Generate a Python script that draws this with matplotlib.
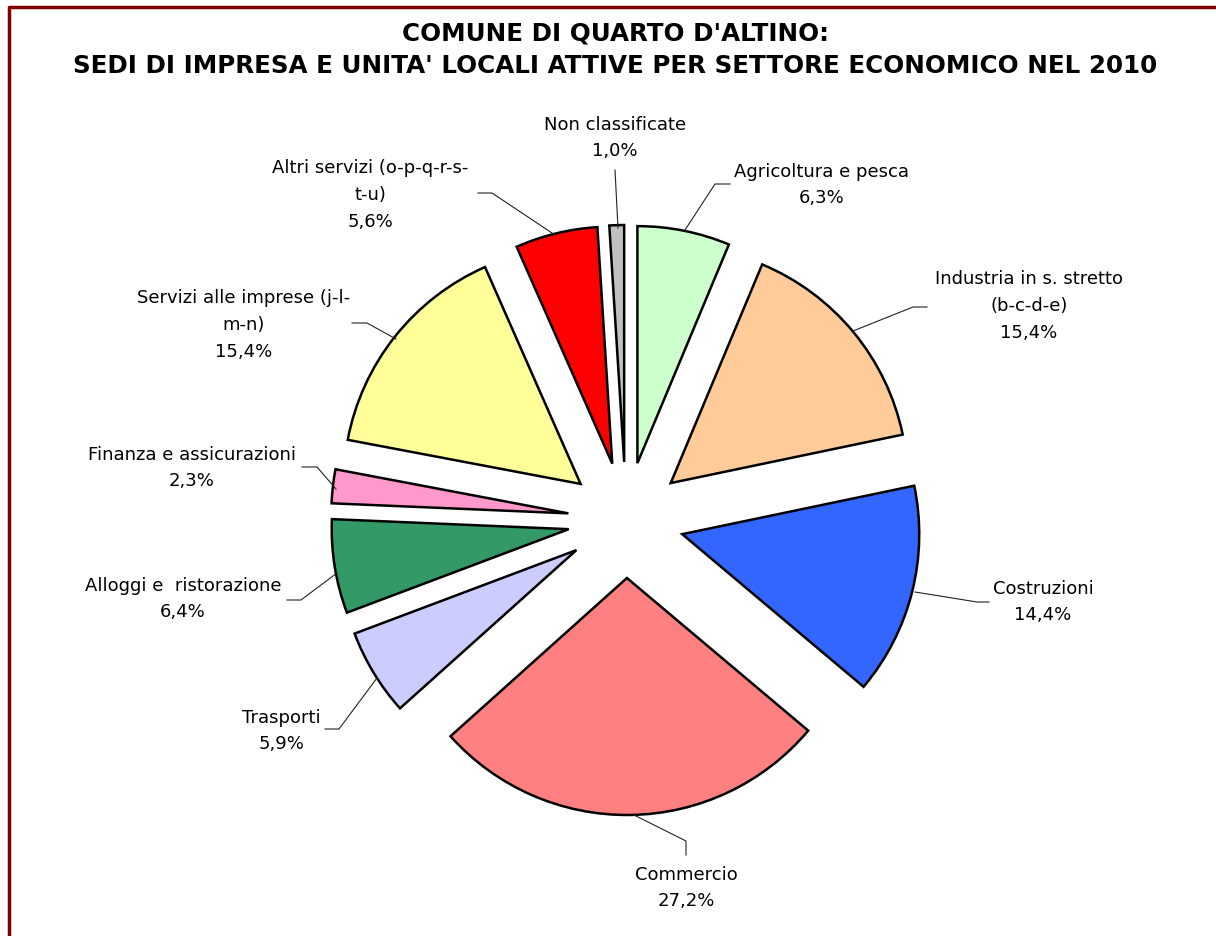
import matplotlib.pyplot as plt

# dati
settori = ["Agricoltura e pesca", "Industria in s. stretto\n(b-c-d-e)", "Costruzioni",
           "Commercio", "Trasporti", "Alloggi e  ristorazione", "Finanza e assicurazioni",
           "Servizi alle imprese (j-l-\nm-n)", "Altri servizi (o-p-q-r-s-\nt-u)",
           "Non classificate"]
perc = [6.3, 15.4, 14.4, 27.2, 5.9, 6.4, 2.3, 15.4, 5.6, 1.0]
colori = ["#CCFFCC", "#FFCC99", "#3366FF", "#FF8080", "#CCCCFF", "#339966",
          "#FF99CC", "#FFFF99", "#FF0000", "#C0C0C0"]

W, H = 1216, 936
# posizioni etichette (pixel, y dall'alto) e linee guida
pos_etich = [(822, 185), (1029, 306), (1043, 602), (686, 888), (281, 731),
             (183, 599), (192, 468), (244, 325), (370, 195), (615, 138)]
guide = [[(730, 184), (715, 184), (685, 230)],
         [(927, 307), (913, 307), (853, 331)],
         [(989, 602), (977, 602), (915, 592)],
         [(686, 855), (686, 841), (634, 815)],
         [(325, 729), (339, 729), (377, 678)],
         [(287, 600), (301, 600), (337, 573)],
         [(302, 467), (317, 467), (336, 489)],
         [(352, 323), (367, 323), (396, 339)],
         [(478, 193), (492, 193), (555, 235)],
         [(615, 170), (618, 228)]]

fig = plt.figure(figsize=(W / 100, H / 100), dpi=100)
ax = fig.add_axes([0, 0, 1, 1])

cx, cy, r = 626, 520, 237
ax.pie(perc, colors=colori, startangle=90, counterclock=False,
       center=(cx, H - cy), radius=r, explode=[58] * len(perc),
       wedgeprops=dict(edgecolor="black", linewidth=1.8))
ax.set_xlim(0, W)
ax.set_ylim(0, H)
ax.set_aspect("equal")
ax.axis("off")

for lab, p, (x, y), g in zip(settori, perc, pos_etich, guide):
    testo = lab + "\n" + ("%.1f%%" % p).replace(".", ",")
    ax.text(x, H - y, testo, ha="center", va="center", fontsize=13,
            linespacing=1.62, color="black")
    ax.plot([q[0] for q in g], [H - q[1] for q in g], color="#222222", lw=0.8)

ax.text(615, H - 33, "COMUNE DI QUARTO D'ALTINO:", ha="center", va="center",
        fontsize=17.7, fontweight="bold")
ax.text(615, H - 66, "SEDI DI IMPRESA E UNITA' LOCALI ATTIVE PER SETTORE ECONOMICO NEL 2010",
        ha="center", va="center", fontsize=17.7, fontweight="bold")

# bordo
ax.plot([9, 9, W], [0, H - 7, H - 7], color="#800000", lw=2.5, solid_capstyle="butt")

fig.savefig("out.png", dpi=100)
